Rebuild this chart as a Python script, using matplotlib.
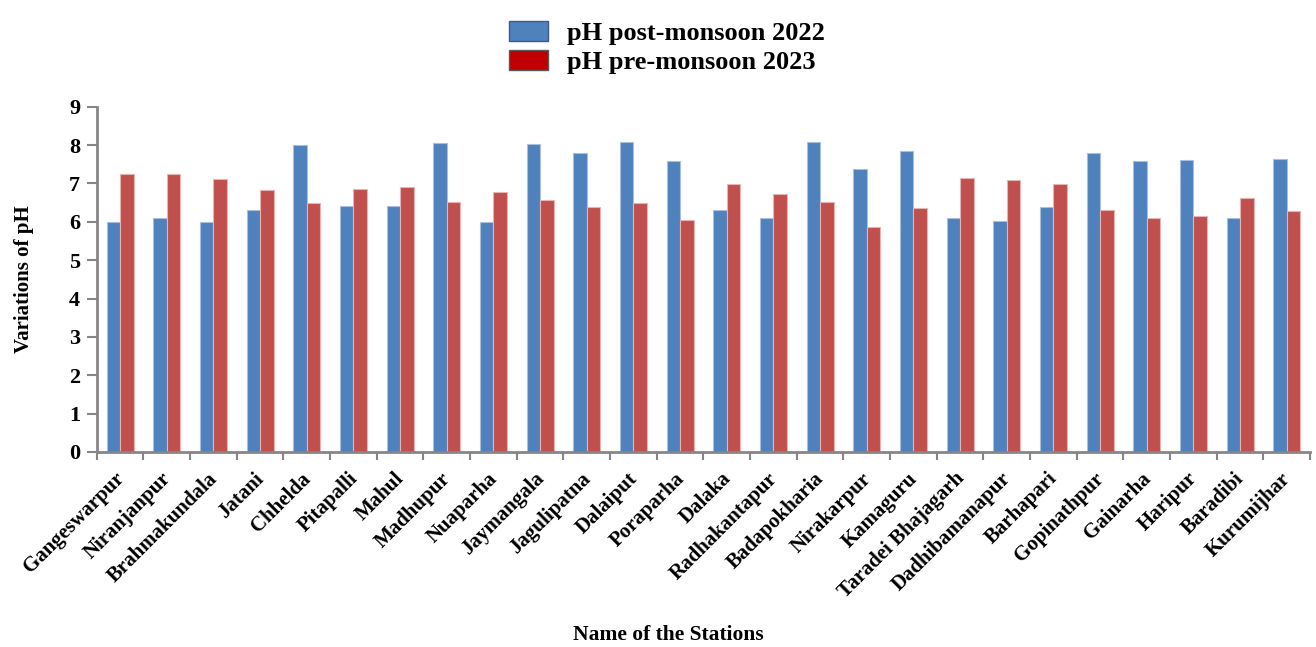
import numpy as np
import matplotlib.pyplot as plt
import matplotlib.transforms as mtransforms
from matplotlib.patches import Patch

plt.rcParams['font.family'] = ['Liberation Serif', 'DejaVu Serif']
plt.rcParams['font.weight'] = 'bold'
plt.rcParams['axes.labelweight'] = 'bold'

# station names and pH readings
stations = ["Gangeswarpur", "Niranjanpur", "Brahmakundala", "Jatani", "Chhelda",
            "Pitapalli", "Mahul", "Madhupur", "Nuaparha", "Jaymangala",
            "Jagulipatna", "Dalaiput", "Poraparha", "Dalaka", "Radhakantapur",
            "Badapokharia", "Nirakarpur", "Kamaguru", "Taradei Bhajagarh",
            "Dadhibamanapur", "Barhapari", "Gopinathpur", "Gainarha", "Haripur",
            "Baradibi", "Kurumijhar"]
ph_post_2022 = [6.0, 6.1, 6.0, 6.3, 8.0, 6.4, 6.42, 8.06, 6.0, 8.02,
                7.8, 8.09, 7.59, 6.3, 6.09, 8.09, 7.39, 7.84, 6.09,
                6.03, 6.39, 7.79, 7.59, 7.61, 6.09, 7.64]
ph_pre_2023 = [7.24, 7.25, 7.11, 6.83, 6.5, 6.86, 6.9, 6.51, 6.77, 6.58,
               6.38, 6.49, 6.05, 6.98, 6.72, 6.51, 5.87, 6.37, 7.13,
               7.09, 6.98, 6.3, 6.11, 6.15, 6.61, 6.27]

blue = '#4F81BD'
red = '#C0504D'
axis_grey = '#868686'

fig = plt.figure(figsize=(13.16, 6.47), dpi=100)
ax = fig.add_axes([0.0735, 0.3014, 0.922, 0.5336])

x = np.arange(len(stations))
w = 0.29
ax.bar(x - w / 2, ph_post_2022, w, color=blue, edgecolor='#A7C0E0', linewidth=0.8)
ax.bar(x + w / 2, ph_pre_2023, w, color=red, edgecolor='#E8B4B3', linewidth=0.8)

ax.set_xlim(-0.5, len(stations) - 0.5)
ax.set_ylim(0, 9)
ax.set_yticks(range(0, 10))
ax.tick_params(axis='y', labelsize=16, length=7, width=1.5, color=axis_grey, pad=5)

# category labels at centres, tick marks at the boundaries
ax.set_xticks(x)
ax.set_xticklabels(stations, rotation=45, ha='right', rotation_mode='anchor', fontsize=15)
ax.tick_params(axis='x', which='major', length=0, pad=12)
ax.set_xticks(np.arange(-0.5, len(stations)), minor=True)
ax.tick_params(axis='x', which='minor', length=6, width=1.5, color=axis_grey)
shift = mtransforms.ScaledTranslation(-6 / 100, 0, fig.dpi_scale_trans)
for lbl in ax.get_xticklabels():
    lbl.set_transform(lbl.get_transform() + shift)

for s in ['top', 'right']:
    ax.spines[s].set_visible(False)
for s in ['left', 'bottom']:
    ax.spines[s].set_color(axis_grey)
    ax.spines[s].set_linewidth(2)

ax.set_ylabel('Variations of pH', fontsize=15, fontweight='bold')
ax.yaxis.set_label_coords(-0.052, 0.5)
ax.set_xlabel('Name of the Stations', fontsize=15.5, fontweight='bold')
ax.xaxis.set_label_coords(0.471, -0.502)

handles = [Patch(facecolor='#4F81BD', edgecolor='#385D8A', label='pH post-monsoon 2022'),
           Patch(facecolor='#C00000', edgecolor='#5A5A5A', label='pH pre-monsoon 2023')]
fig.legend(handles=handles, loc='upper center', bbox_to_anchor=(0.5065, 1.005), ncol=1,
           frameon=False, fontsize=19, handlelength=1.5, handleheight=0.8,
           handletextpad=0.7, labelspacing=0.2)

fig.savefig('out.png', dpi=100)
